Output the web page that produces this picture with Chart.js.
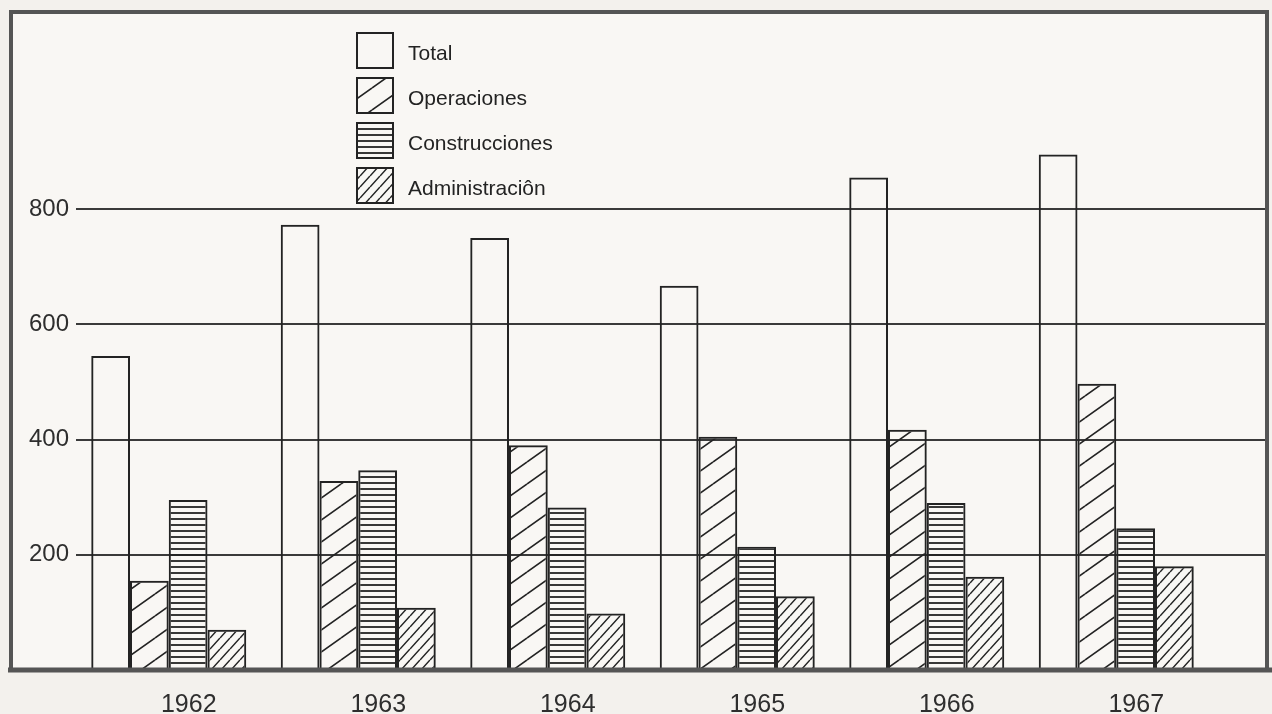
<!DOCTYPE html>
<html>
<head>
<meta charset="utf-8">
<title>Gastos 1962-1967</title>
<script src="https://cdn.jsdelivr.net/npm/chart.js@4.4.0/dist/chart.umd.min.js"></script>
<style>
  html, body { margin: 0; padding: 0; background: #f3f1ed; }
  canvas { display: block; }
</style>
</head>
<body>
<canvas id="chart" width="1272" height="714"></canvas>
<script>
// data
var years = ["1962", "1963", "1964", "1965", "1966", "1967"];
var total = [545, 773, 750, 667, 855, 895];
var operaciones = [155, 328, 390, 405, 417, 497];
var construcciones = [295, 347, 282, 214, 290, 246];
var administracion = [70, 108, 98, 128, 162, 180];
var yTicks = [200, 400, 600, 800];
var seriesNames = ["Total", "Operaciones", "Construcciones", "Administraciôn"];

var INK = "#232323";
var FONT = "'Liberation Sans', Arial, sans-serif";

// hatch tiles
function makePattern(w, h, draw) {
  var c = document.createElement("canvas");
  c.width = w;
  c.height = h;
  var g = c.getContext("2d");
  g.strokeStyle = INK;
  g.fillStyle = INK;
  draw(g, w, h);
  return g.createPattern(c, "repeat");
}

// lines rising to the right, one per tile (slope = h / w)
function diagonal(w, h, lw) {
  return makePattern(w, h, function (g) {
    g.lineWidth = lw;
    g.beginPath();
    for (var k = -1; k <= 1; k++) {
      g.moveTo(0, h + k * h);
      g.lineTo(w, k * h);
    }
    g.stroke();
  });
}

function horizontal(w, h, lw) {
  return makePattern(w, h, function (g) {
    g.fillRect(0, (h - lw) / 2, w, lw);
  });
}

var fills = [
  "rgba(0,0,0,0)",
  diagonal(31, 22, 1.6),
  horizontal(8, 6, 1.8),
  diagonal(10, 11, 1.5)
];

// paper inside the frame
var paper = {
  id: "paper",
  beforeDraw: function (chart) {
    var ctx = chart.ctx;
    ctx.save();
    ctx.fillStyle = "#f9f7f4";
    ctx.fillRect(11, 12, 1256, 660);
    ctx.restore();
  }
};

// horizontal rules run the full width of the frame
var rules = {
  id: "rules",
  beforeDatasetsDraw: function (chart) {
    var ctx = chart.ctx;
    var y = chart.scales.y;
    ctx.save();
    ctx.strokeStyle = "#3a3a3a";
    ctx.lineWidth = 2;
    yTicks.forEach(function (v) {
      var py = Math.round(y.getPixelForValue(v));
      ctx.beginPath();
      ctx.moveTo(76, py);
      ctx.lineTo(1266, py);
      ctx.stroke();
    });
    ctx.restore();
  }
};

// thick border and base line
var frame = {
  id: "frame",
  afterDatasetsDraw: function (chart) {
    var ctx = chart.ctx;
    var base = chart.scales.y.getPixelForValue(0);
    ctx.save();
    ctx.strokeStyle = "#555555";
    ctx.lineWidth = 4;
    ctx.beginPath();
    ctx.moveTo(11, base);
    ctx.lineTo(11, 12);
    ctx.lineTo(1267, 12);
    ctx.lineTo(1267, base);
    ctx.stroke();
    ctx.lineWidth = 5;
    ctx.beginPath();
    ctx.moveTo(8, base);
    ctx.lineTo(1272, base);
    ctx.stroke();
    ctx.restore();
  }
};

// legend block
var legendBox = {
  id: "legendBox",
  afterDraw: function (chart) {
    var ctx = chart.ctx;
    ctx.save();
    ctx.font = "21px " + FONT;
    ctx.textBaseline = "middle";
    chart.data.datasets.forEach(function (ds, i) {
      var top = 33 + i * 45;
      ctx.fillStyle = ds.backgroundColor;
      ctx.fillRect(357, top, 36, 35);
      ctx.strokeStyle = INK;
      ctx.lineWidth = 2;
      ctx.strokeRect(357, top, 36, 35);
      ctx.fillStyle = INK;
      ctx.fillText(ds.label, 408, top + 21);
    });
    ctx.restore();
  }
};

var series = [total, operaciones, construcciones, administracion];

new Chart(document.getElementById("chart"), {
  type: "bar",
  data: {
    labels: years,
    datasets: series.map(function (values, i) {
      return {
        label: seriesNames[i],
        data: values,
        backgroundColor: fills[i],
        borderColor: INK,
        borderWidth: 2,
        borderSkipped: "start",
        barPercentage: 1,
        categoryPercentage: 0.818
      };
    })
  },
  options: {
    responsive: false,
    animation: false,
    layout: { padding: { top: 94, right: 61, bottom: 0, left: 0 } },
    plugins: {
      legend: { display: false },
      tooltip: { enabled: false }
    },
    scales: {
      x: {
        grid: { display: false, drawTicks: false },
        border: { display: false },
        ticks: {
          color: "#2e2e2e",
          font: { family: FONT, size: 25 },
          padding: 20,
          labelOffset: 20
        },
        afterFit: function (axis) {
          axis.height = 44;
        }
      },
      y: {
        min: 0,
        max: 1000,
        grid: { display: false, drawTicks: false },
        border: { display: false },
        ticks: {
          color: "#2e2e2e",
          font: { family: FONT, size: 24 },
          padding: 5
        },
        afterBuildTicks: function (axis) {
          axis.ticks = yTicks.map(function (v) { return { value: v }; });
        },
        afterFit: function (axis) {
          axis.width = 74;
        }
      }
    }
  },
  plugins: [paper, rules, frame, legendBox]
});
</script>
</body>
</html>
